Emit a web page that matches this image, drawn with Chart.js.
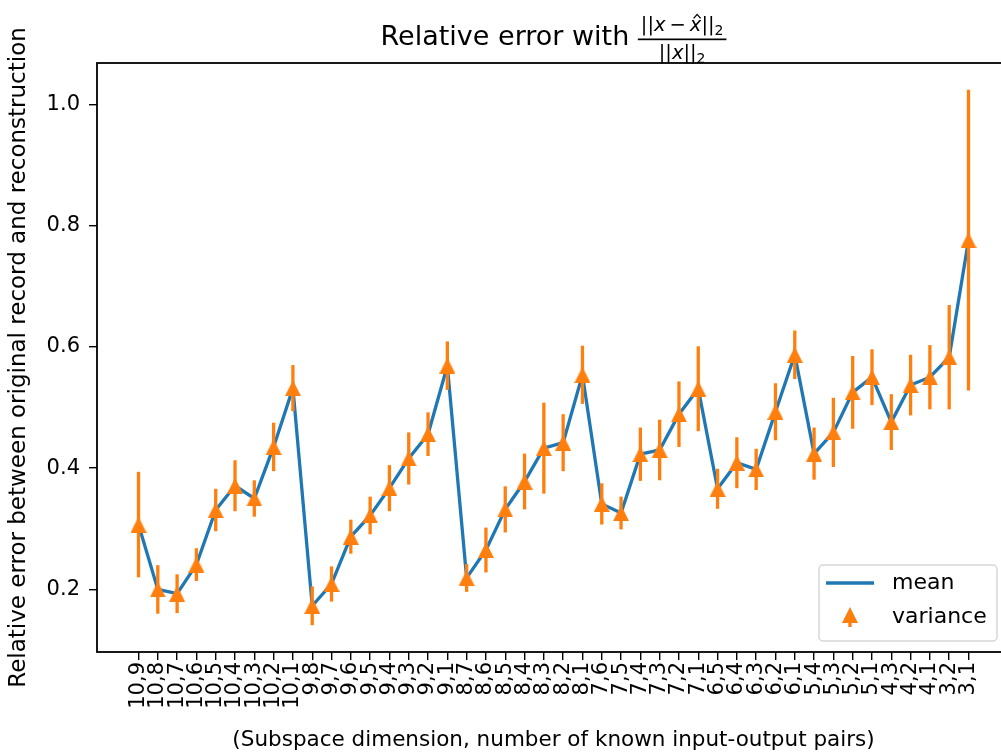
<!DOCTYPE html>
<html>
<head>
<title>Relative error</title>
<script src="https://cdn.jsdelivr.net/npm/chart.js"></script>
<style>
  html, body { margin: 0; padding: 0; overflow: hidden; background: #fff; }
  canvas { display: block; }
</style>
</head>
<body>
<canvas id="errChart" width="1020" height="754"></canvas>
<script>
// (subspace dimension, known pairs)
const pairs = ['10,9', '10,8', '10,7', '10,6', '10,5', '10,4', '10,3', '10,2', '10,1',
               '9,8', '9,7', '9,6', '9,5', '9,4', '9,3', '9,2', '9,1',
               '8,7', '8,6', '8,5', '8,4', '8,3', '8,2', '8,1',
               '7,6', '7,5', '7,4', '7,3', '7,2', '7,1',
               '6,5', '6,4', '6,3', '6,2', '6,1',
               '5,4', '5,3', '5,2', '5,1',
               '4,3', '4,2', '4,1',
               '3,2', '3,1'];
const meanErr = [0.307, 0.200, 0.193, 0.241, 0.331, 0.371, 0.350, 0.435, 0.532,
                 0.173, 0.209, 0.287, 0.322, 0.367, 0.416, 0.456, 0.569,
                 0.219, 0.265, 0.332, 0.378, 0.433, 0.442, 0.554,
                 0.341, 0.326, 0.423, 0.430, 0.489, 0.531,
                 0.366, 0.409, 0.398, 0.493, 0.587,
                 0.424, 0.459, 0.525, 0.550,
                 0.476, 0.537, 0.550,
                 0.583, 0.776];
const varErr = [0.087, 0.040, 0.032, 0.027, 0.035, 0.042, 0.030, 0.040, 0.038,
                0.032, 0.029, 0.028, 0.031, 0.038, 0.043, 0.036, 0.040,
                0.023, 0.037, 0.038, 0.046, 0.075, 0.047, 0.048,
                0.034, 0.027, 0.044, 0.050, 0.054, 0.070,
                0.033, 0.042, 0.034, 0.047, 0.040,
                0.043, 0.057, 0.060, 0.046,
                0.046, 0.050, 0.053,
                0.086, 0.248];
const yTicks = [0.2, 0.4, 0.6, 0.8, 1.0];

const FONT = "'DejaVu Sans', sans-serif";
const BLUE = '#1f77b4';
const ORANGE = '#ff7f0e';
const INK = '#000';

// axis limits: extent of the error bars plus 5% on each side
const lows = meanErr.map((m, i) => m - varErr[i]);
const highs = meanErr.map((m, i) => m + varErr[i]);
const yLo = Math.min(...lows), yHi = Math.max(...highs);
const yPad = (yHi - yLo) * 0.05;
const xPad = (pairs.length - 1) * 0.05;

// upward triangle, same shape as the '^' marker
function triangleMarker(size) {
    const c = document.createElement('canvas');
    c.width = size; c.height = size;
    const g = c.getContext('2d');
    g.fillStyle = ORANGE;
    g.beginPath();
    g.moveTo(size / 2, 0);
    g.lineTo(size, size);
    g.lineTo(0, size);
    g.closePath();
    g.fill();
    return c;
}
const marker = triangleMarker(16);

const errorBars = {
    id: 'errorBars',
    afterDatasetsDraw(chart) {
        const {ctx, scales: {x, y}} = chart;
        ctx.save();
        ctx.strokeStyle = ORANGE;
        ctx.lineWidth = 3.3;
        meanErr.forEach((m, i) => {
            const px = x.getPixelForValue(i);
            ctx.beginPath();
            ctx.moveTo(px, y.getPixelForValue(m - varErr[i]));
            ctx.lineTo(px, y.getPixelForValue(m + varErr[i]));
            ctx.stroke();
        });
        ctx.restore();
    }
};

// draws runs of text left to right, returns total width
function drawRuns(ctx, runs, x, y, draw) {
    let cx = x;
    runs.forEach(r => {
        ctx.font = (r.italic ? 'italic ' : '') + r.size + 'px ' + FONT;
        const w = ctx.measureText(r.t).width;
        if (draw) {
            ctx.fillText(r.t, cx, y + (r.dy || 0));
            if (r.hat) {
                const hx = cx + w / 2 + 1.5, hy = y - r.size * 0.8;
                ctx.save();
                ctx.lineWidth = 1.3;
                ctx.beginPath();
                ctx.moveTo(hx - 3.5, hy + 3);
                ctx.lineTo(hx, hy - 1);
                ctx.lineTo(hx + 3.5, hy + 3);
                ctx.stroke();
                ctx.restore();
            }
        }
        cx += w + (r.space || 0);
    });
    return cx - x;
}

const frameTitleLegend = {
    id: 'frameTitleLegend',
    afterDraw(chart) {
        const {ctx, chartArea: a} = chart;
        ctx.save();

        // axes frame
        ctx.strokeStyle = INK;
        ctx.lineWidth = 1.8;
        ctx.strokeRect(a.left, a.top, a.right - a.left, a.bottom - a.top);

        // title with the norm ratio
        ctx.fillStyle = INK;
        ctx.strokeStyle = INK;
        ctx.textBaseline = 'alphabetic';
        const head = 'Relative error with ';
        ctx.font = '27px ' + FONT;
        const headW = ctx.measureText(head).width;
        const num = [
            {t: '||', size: 19.5}, {t: 'x', size: 19.5, italic: true, space: 4},
            {t: '\u2212', size: 19.5, space: 4}, {t: 'x', size: 19.5, italic: true, hat: true},
            {t: '||', size: 19.5}, {t: '2', size: 14, dy: 4}
        ];
        const den = [
            {t: '||', size: 19.5}, {t: 'x', size: 19.5, italic: true},
            {t: '||', size: 19.5}, {t: '2', size: 14, dy: 4}
        ];
        const numW = drawRuns(ctx, num, 0, 0, false);
        const denW = drawRuns(ctx, den, 0, 0, false);
        const fracW = Math.max(numW, denW) + 6;
        const cx = (a.left + a.right) / 2;
        const x0 = cx - (headW + fracW) / 2;
        ctx.font = '27px ' + FONT;
        ctx.fillText(head, x0, 45);
        const fx = x0 + headW;
        ctx.fillRect(fx, 38.5, fracW, 1.7);
        drawRuns(ctx, num, fx + (fracW - numW) / 2, 31, true);
        drawRuns(ctx, den, fx + (fracW - denW) / 2, 59, true);

        // legend, lower right inside the axes
        const lx = a.right - 191, ly = a.bottom - 87, lw = 178, lh = 76;
        ctx.fillStyle = 'rgba(255,255,255,0.8)';
        ctx.strokeStyle = '#d6d6d6';
        ctx.lineWidth = 1.5;
        ctx.beginPath();
        ctx.roundRect(lx, ly, lw, lh, 4);
        ctx.fill();
        ctx.stroke();

        ctx.strokeStyle = BLUE;
        ctx.lineWidth = 3.3;
        ctx.beginPath();
        ctx.moveTo(lx + 7, ly + 18);
        ctx.lineTo(lx + 55, ly + 18);
        ctx.stroke();

        ctx.strokeStyle = ORANGE;
        ctx.beginPath();
        ctx.moveTo(lx + 31, ly + 50);
        ctx.lineTo(lx + 31, ly + 62);
        ctx.stroke();
        ctx.drawImage(marker, lx + 31 - 8, ly + 50 - 8);

        ctx.fillStyle = INK;
        ctx.font = '22px ' + FONT;
        ctx.textBaseline = 'middle';
        ctx.fillText('mean', lx + 73, ly + 18);
        ctx.fillText('variance', lx + 73, ly + 52);
        ctx.restore();
    }
};

const points = meanErr.map((m, i) => ({x: i, y: m}));

new Chart(document.getElementById('errChart'), {
    type: 'line',
    data: {
        datasets: [{
            label: 'variance',
            data: points,
            showLine: false,
            pointStyle: marker,
            pointRadius: 8,
            order: 0
        }, {
            label: 'mean',
            data: points,
            borderColor: BLUE,
            borderWidth: 3.3,
            pointRadius: 0,
            tension: 0,
            fill: false,
            order: 1
        }]
    },
    options: {
        responsive: false,
        animation: false,
        layout: {padding: {left: 0, right: 10, top: 63, bottom: 0}},
        plugins: {
            legend: {display: false},
            tooltip: {enabled: false},
            title: {display: false}
        },
        scales: {
            x: {
                type: 'linear',
                min: -xPad,
                max: pairs.length - 1 + xPad,
                afterBuildTicks: s => { s.ticks = pairs.map((p, i) => ({value: i})); },
                afterFit: s => { s.height = 102; },
                ticks: {
                    autoSkip: false, minRotation: 90, maxRotation: 90, padding: 2,
                    color: INK, font: {family: FONT, size: 21},
                    callback: v => pairs[v]
                },
                grid: {display: true, drawOnChartArea: false, drawTicks: true, tickLength: 8, color: INK, lineWidth: 1.4},
                border: {display: false},
                title: {
                    display: true,
                    text: '(Subspace dimension, number of known input-output pairs)',
                    color: INK, font: {family: FONT, size: 21.5}, padding: {top: 0, bottom: 1}
                }
            },
            y: {
                type: 'linear',
                min: yLo - yPad,
                max: yHi + yPad,
                afterBuildTicks: s => { s.ticks = yTicks.map(v => ({value: v})); },
                afterFit: s => { s.width = 97; },
                ticks: {
                    padding: 9, color: INK, font: {family: FONT, size: 21},
                    callback: v => v.toFixed(1)
                },
                grid: {display: true, drawOnChartArea: false, drawTicks: true, tickLength: 8, color: INK, lineWidth: 1.4},
                border: {display: false},
                title: {
                    display: true,
                    text: 'Relative error between original record and reconstruction',
                    color: INK, font: {family: FONT, size: 23}, padding: {top: 5, bottom: 0}
                }
            }
        }
    },
    plugins: [errorBars, frameTitleLegend]
});
</script>
</body>
</html>
